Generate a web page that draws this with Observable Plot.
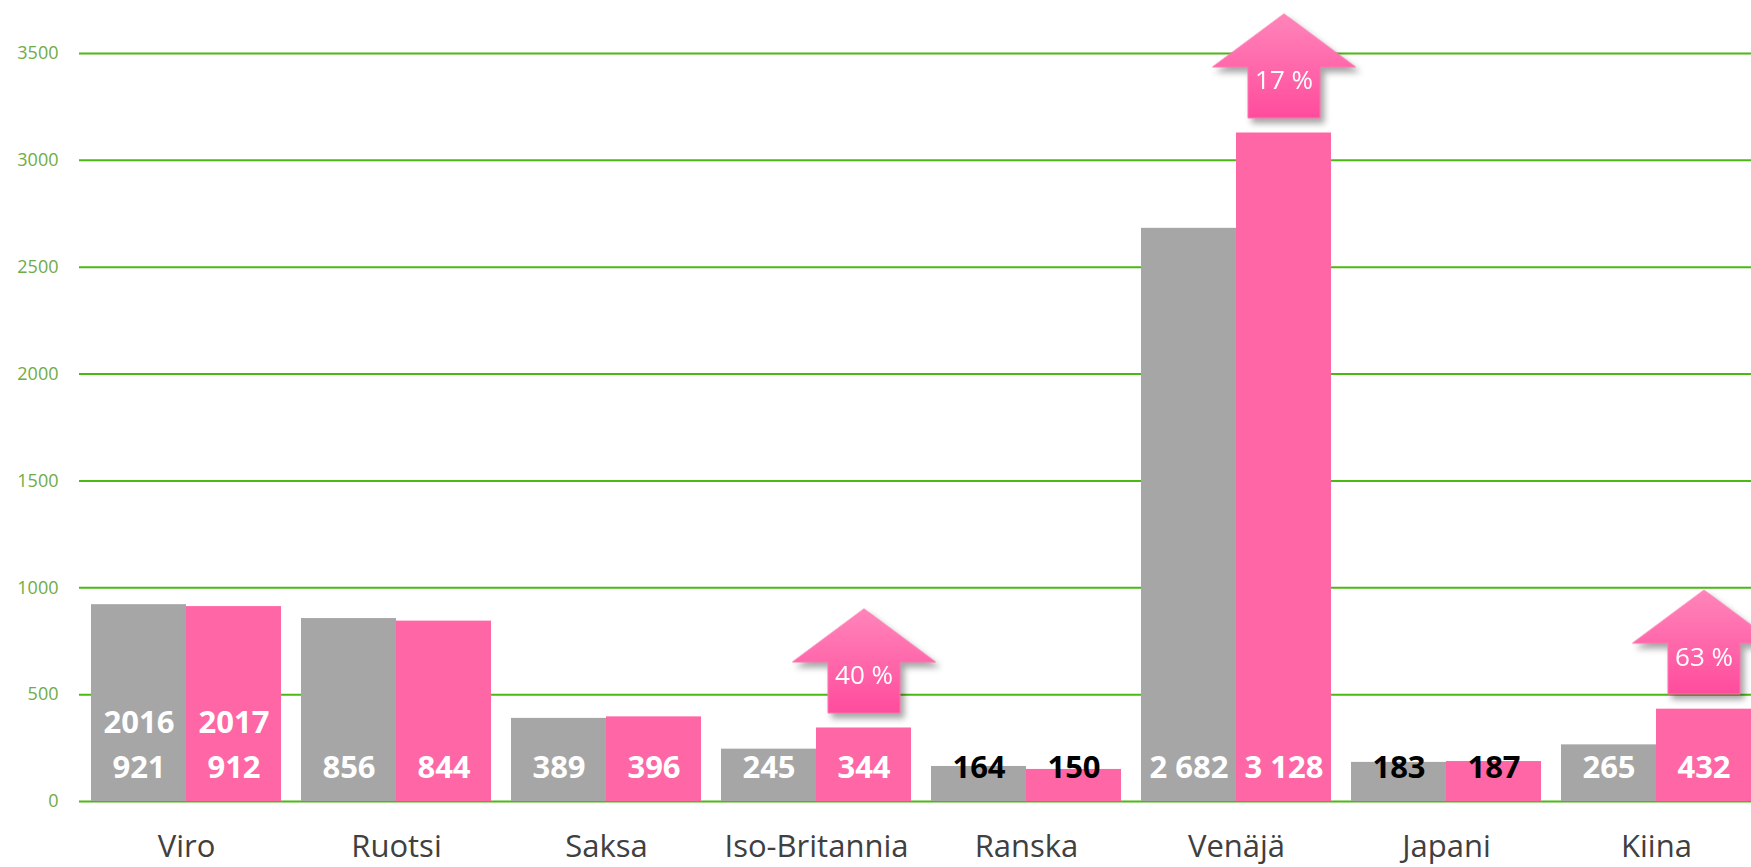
<!DOCTYPE html>
<html>
<head>
<meta charset="utf-8">
<script src="https://cdn.jsdelivr.net/npm/d3@7"></script>
<script src="https://cdn.jsdelivr.net/npm/@observablehq/plot@0.6"></script>
<style>
  html, body { margin: 0; padding: 0; background: #fff; overflow: hidden; }
  #chart svg { display: block; }
</style>
</head>
<body>
<div id="chart"></div>
<script>
const countries = ["Viro", "Ruotsi", "Saksa", "Iso-Britannia", "Ranska", "Venäjä", "Japani", "Kiina"];
const values2016 = [921, 856, 389, 245, 164, 2682, 183, 265];
const values2017 = [912, 844, 396, 344, 150, 3128, 187, 432];
const years = ["2016", "2017"];
const yTicks = [0, 500, 1000, 1500, 2000, 2500, 3000, 3500];
const darkLabelCountries = ["Ranska", "Japani"];
const arrowCountries = ["Iso-Britannia", "Venäjä", "Kiina"];
const arrowLabels = ["40 %", "17 %", "63 %"];

const rows = countries.map((c, i) => ({country: c, v16: values2016[i], v17: values2017[i]}));
const arrows = arrowCountries.map((c, i) => ({country: c, v17: values2017[countries.indexOf(c)], label: arrowLabels[i]}));
const fmt = d3.formatLocale({decimal: ",", thousands: " ", grouping: [3], currency: ["", "€"]}).format(",");

const half = 95;   // half of a group's width in px
const off = half / 2;

const arrowSymbol = {
  draw(ctx) {
    const g = 15, sh = 36, hh = 71.5, b = 51, t = 104;
    ctx.moveTo(-sh, -g);
    ctx.lineTo(-sh, -g - b);
    ctx.lineTo(-hh, -g - b);
    ctx.lineTo(0, -g - t);
    ctx.lineTo(hh, -g - b);
    ctx.lineTo(sh, -g - b);
    ctx.lineTo(sh, -g);
    ctx.closePath();
  }
};

const font = "'Open Sans', 'DejaVu Sans', sans-serif";

const chart = Plot.plot({
  width: 1751,
  height: 867,
  marginLeft: 79,
  marginRight: 0,
  marginTop: 53,
  marginBottom: 66,
  style: {fontFamily: font, background: "#fff"},
  x: {domain: countries, range: [79, 1762], paddingInner: 0.097, paddingOuter: 0.0485, label: null},
  y: {domain: [0, 3500], label: null},
  marks: [
    Plot.ruleY(yTicks, {stroke: "#4CB812", strokeWidth: 2}),
    Plot.barY(rows, {x: "country", y: "v16", fill: "#A6A6A6", insetRight: half}),
    Plot.barY(rows, {x: "country", y: "v17", fill: "#FF66A6", insetLeft: half}),
    Plot.text(rows, {x: "country", y: () => 0, dx: -off, dy: -33, text: d => fmt(d.v16),
      fill: d => darkLabelCountries.includes(d.country) ? "#000" : "#fff", fontSize: 31, fontWeight: "bold"}),
    Plot.text(rows, {x: "country", y: () => 0, dx: off, dy: -33, text: d => fmt(d.v17),
      fill: d => darkLabelCountries.includes(d.country) ? "#000" : "#fff", fontSize: 31, fontWeight: "bold"}),
    Plot.text(rows.slice(0, 1), {x: "country", y: () => 0, dx: -off, dy: -78, text: () => years[0], fill: "#fff", fontSize: 31, fontWeight: "bold"}),
    Plot.text(rows.slice(0, 1), {x: "country", y: () => 0, dx: off, dy: -78, text: () => years[1], fill: "#fff", fontSize: 31, fontWeight: "bold"}),
    Plot.dot(arrows, {x: "country", y: "v17", dx: off, symbol: arrowSymbol, fill: "url(#arrowGrad)", stroke: "#FF74B0", strokeWidth: 1, r: 10}),
    Plot.text(arrows, {x: "country", y: "v17", dx: off, dy: -52, text: "label", fill: "#fff", fontSize: 26}),
    Plot.axisY({ticks: yTicks, tickFormat: d => String(d), tickSize: 0, tickPadding: 21, fontSize: 18, fill: "#6FAC46", label: null}),
    Plot.axisX({tickSize: 0, tickPadding: 33, fontSize: 31, fill: "#404040", label: null})
  ]
});

const svg = d3.select(chart);
svg.attr("overflow", "hidden");
const defs = svg.insert("defs", ":first-child");
const grad = defs.append("linearGradient").attr("id", "arrowGrad").attr("x1", 0).attr("y1", 0).attr("x2", 0).attr("y2", 1);
grad.append("stop").attr("offset", "0%").attr("stop-color", "#FF85BA");
grad.append("stop").attr("offset", "100%").attr("stop-color", "#FF4C9D");
svg.selectAll("g[aria-label='dot']").style("filter", "drop-shadow(4px 5px 3px rgba(0,0,0,0.35))");
document.getElementById("chart").appendChild(chart);
</script>
</body>
</html>
